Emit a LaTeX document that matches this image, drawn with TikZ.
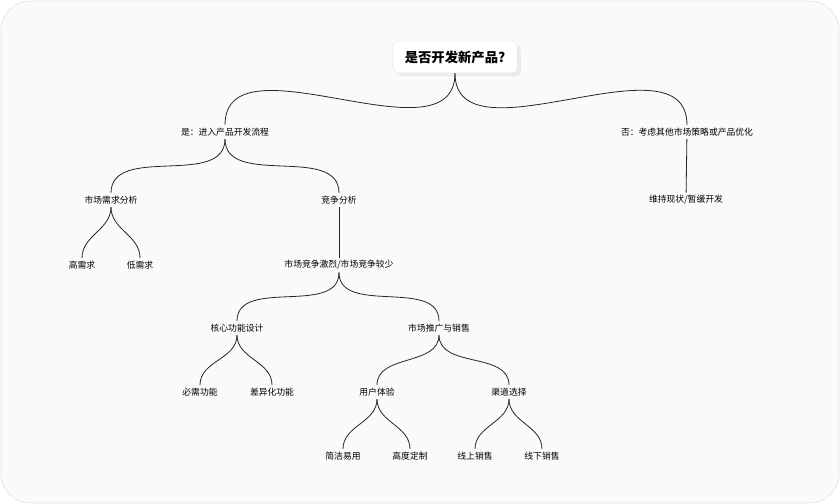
\documentclass[tikz,border=0pt]{standalone}
\usepackage{fontspec}
\setmainfont{Noto Sans CJK SC}
\usetikzlibrary{positioning,shadows}

\begin{document}
\begin{tikzpicture}[x=0.75pt, y=-0.75pt, font=\fontsize{6.6}{8}\selectfont,
		leaf/.style={inner sep=2pt},
		rootbox/.style={draw=black!8, fill=white, rounded corners=4pt, inner xsep=9pt, inner ysep=7pt, font=\fontsize{10}{12}\selectfont\bfseries, drop shadow={opacity=0.12}},
		branch/.style={draw=black!85, line width=0.6pt}]

		\useasboundingbox (0,0) rectangle (840,504);
		\fill[black!2, draw=black!12, rounded corners=22pt] (1,1) rectangle (839,503);

		\node[rootbox] (root) at (455,57) {是否开发新产品?};
		\node[leaf] (yes) at (225,132) {是：进入产品开发流程};
		\node[leaf] (no) at (687,132) {否：考虑其他市场策略或产品优化};
		\node[leaf] (market) at (111,200) {市场需求分析};
		\node[leaf] (compete) at (339,200) {竞争分析};
		\node[leaf] (keep) at (686,200) {维持现状/暂缓开发};
		\node[leaf] (high) at (82,265) {高需求};
		\node[leaf] (low) at (140,265) {低需求};
		\node[leaf] (fierce) at (339,265) {市场竞争激烈/市场竞争较少};
		\node[leaf] (core) at (237,328) {核心功能设计};
		\node[leaf] (promo) at (439,328) {市场推广与销售};
		\node[leaf] (must) at (200,392) {必需功能};
		\node[leaf] (diff) at (272,392) {差异化功能};
		\node[leaf] (ux) at (377,392) {用户体验};
		\node[leaf] (channel) at (509,392) {渠道选择};
		\node[leaf] (simple) at (343,456) {简洁易用};
		\node[leaf] (custom) at (410,456) {高度定制};
		\node[leaf] (online) at (475,456) {线上销售};
		\node[leaf] (offline) at (542,456) {线下销售};

		\foreach \p/\c in {root/yes, root/no, yes/market, yes/compete, market/high, market/low,
				fierce/core, fierce/promo, core/must, core/diff, promo/ux, promo/channel,
				ux/simple, ux/custom, channel/online, channel/offline}
			\draw[branch] (\p.south) to[out=-90, in=90] (\c.north);
		\draw[branch] (compete) -- (fierce);
		\draw[branch] (no) -- (keep);

\end{tikzpicture}
\end{document}
